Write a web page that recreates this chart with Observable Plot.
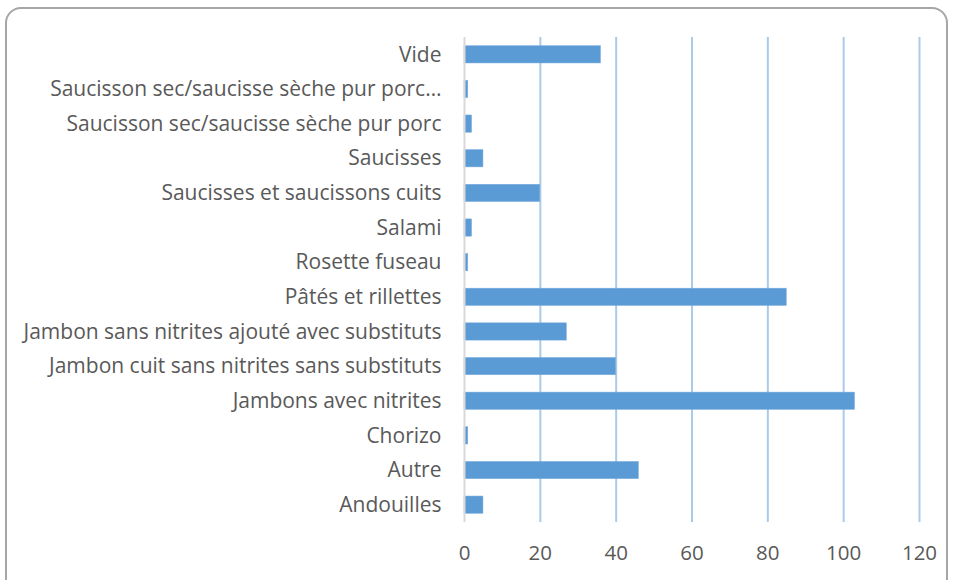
<!DOCTYPE html>
<html>
<head>
<meta charset="utf-8">
<script src="https://cdn.jsdelivr.net/npm/d3@7"></script>
<script src="https://cdn.jsdelivr.net/npm/@observablehq/plot@0.6"></script>
<style>
  html, body { margin: 0; padding: 0; background: #fff; }
  #wrap { position: relative; width: 954px; height: 580px; overflow: hidden; }
  #frame { position: absolute; left: 5px; top: 7px; width: 943px; height: 590px;
           border: 2px solid #a6a6a6; border-radius: 16px; box-sizing: border-box; }
  #chart { position: absolute; left: 0; top: 0; }
</style>
</head>
<body>
<div id="wrap"><div id="frame"></div><div id="chart"></div></div>
<script>
const categories = [
  "Vide",
  "Saucisson sec/saucisse sèche pur porc…",
  "Saucisson sec/saucisse sèche pur porc",
  "Saucisses",
  "Saucisses et saucissons cuits",
  "Salami",
  "Rosette fuseau",
  "Pâtés et rillettes",
  "Jambon sans nitrites ajouté avec substituts",
  "Jambon cuit sans nitrites sans substituts",
  "Jambons avec nitrites",
  "Chorizo",
  "Autre",
  "Andouilles"
];
const values = [36, 1, 2, 5, 20, 2, 1, 85, 27, 40, 103, 1, 46, 5];
const xTicks = [0, 20, 40, 60, 80, 100, 120];

const data = categories.map((c, i) => ({category: c, value: values[i]}));

const chart = Plot.plot({
  width: 954,
  height: 580,
  marginLeft: 464,
  marginRight: 35,
  marginTop: 37,
  marginBottom: 58,
  style: {fontFamily: "'Open Sans', sans-serif", fontSize: "20px", color: "#595959", background: "transparent"},
  x: {domain: [0, 120], ticks: xTicks, tickSize: 0, label: null},
  y: {domain: categories, paddingInner: 0.5, paddingOuter: 0.25, round: false, tickSize: 0, label: null},
  marks: [
    Plot.gridX(xTicks.filter(d => d > 0), {stroke: "#a9cbe8", strokeOpacity: 1, strokeWidth: 2}),
    Plot.barX(data, {x: "value", y: "category", fill: "#5b9bd5", stroke: "#7fb0e0", strokeWidth: 0.5}),
    Plot.ruleX([0], {stroke: "#d9d9d9", strokeWidth: 2}),
    Plot.axisX({ticks: xTicks, tickSize: 0, tickPadding: 23, fontSize: 20.5, label: null}),
    Plot.axisY({tickSize: 0, tickPadding: 23, fontSize: 21, label: null})
  ]
});
document.getElementById("chart").appendChild(chart);
</script>
</body>
</html>
